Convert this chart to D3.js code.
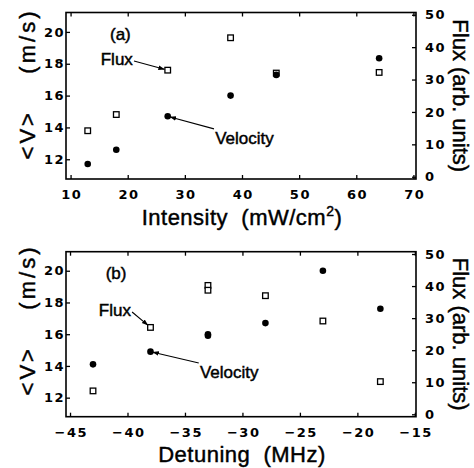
<!DOCTYPE html>
<html><head><meta charset="utf-8">
<script src="https://cdn.jsdelivr.net/npm/d3@7"></script>
<style>body{margin:0;background:#fff} svg{display:block}</style>
</head><body><svg id="c" width="474" height="468"></svg>
<script>
// ---------- data ----------
const intensity   = [13, 18, 27, 38, 46, 64];
const velocityA   = [11.7, 12.6, 14.7, 16.0, 17.3, 18.35];
const fluxA       = [14.2, 19.2, 32.9, 42.9, 32.0, 32.2];

const detuning    = [-43, -38, -33, -33, -28, -23, -18];
const velocityB   = [14.1, 14.9, 16.0, 15.9, 16.7, 20.0, 17.6];
const fluxB       = [7.3, 27.1, 40.2, 38.7, 37.0, 29.1, 10.2];

const intensityTicks = [10, 20, 30, 40, 50, 60, 70];
const detuningTicks  = [-45, -40, -35, -30, -25, -20, -15];
const velocityTicks  = [12, 14, 16, 18, 20];
const fluxTicks      = [0, 10, 20, 30, 40, 50];

// annotations in data units [x, leftY]
const annotA = {
  tag: {text: "(a)", at: [16.9, 19.5]},
  flux: {text: "Flux", at: [20.9, 17.92], from: [21.1, 18.17], to: 2},
  vel: {text: "Velocity", at: [35.3, 12.97], from: [35.1, 13.91], to: 2}
};
const annotB = {
  tag: {text: "(b)", at: [-41.9, 19.48]},
  flux: {text: "Flux", at: [-39.7, 17.15], from: [-39.6, 17.4], to: 1},
  vel: {text: "Velocity", at: [-33.7, 13.26], from: [-33.8, 14.19], to: 1}
};

const svg = d3.select("#c");
const FONT = "'Liberation Sans', Arial, Helvetica, sans-serif";
const TICKFONT = "'DejaVu Sans', Verdana, sans-serif";

svg.append("defs").append("marker")
  .attr("id", "ah").attr("viewBox", "0 0 10 10").attr("refX", 9).attr("refY", 5)
  .attr("markerWidth", 6).attr("markerHeight", 6).attr("orient", "auto")
  .append("path").attr("d", "M0,1.5 L10,5 L0,8.5 Z").attr("fill", "#000");

function heavy(sel) {
  return sel.attr("fill", "#000").attr("stroke", "#000").attr("stroke-width", 0.45);
}

function panel(cfg) {
  const L = 66, R = 416, T = cfg.top, B = cfg.bottom;
  const x = d3.scaleLinear().domain(cfg.xDomain).range([L, R]);
  const yl = d3.scaleLinear().domain(cfg.yDomain).range([B, T]);
  const yr = d3.scaleLinear().domain(cfg.fDomain).range([B, T]);
  const g = svg.append("g");

  const styleAxis = (sel) => {
    sel.select(".domain").remove();
    sel.selectAll(".tick line").attr("stroke", "#000").attr("stroke-width", 1.3);
    sel.selectAll(".tick text").attr("fill", "#000")
      .style("font-family", TICKFONT).style("font-size", "13px").style("font-weight", "bold")
      .style("letter-spacing", "1.5px");
  };

  g.append("g").attr("transform", `translate(0,${B})`)
    .call(d3.axisBottom(x).tickValues(cfg.xTicks).tickSizeInner(-4).tickSizeOuter(0).tickPadding(11)
      .tickFormat(d3.format("d")))
    .call(styleAxis)
    .selectAll(".tick text").attr("dx", "0.75px");
  g.append("g").attr("transform", `translate(0,${T})`)
    .call(d3.axisTop(x).tickValues(cfg.xTicks).tickSizeInner(-4).tickSizeOuter(0).tickFormat(""))
    .call(styleAxis);
  g.append("g").attr("transform", `translate(${L},0)`)
    .call(d3.axisLeft(yl).tickValues(velocityTicks).tickSizeInner(-4).tickSizeOuter(0).tickPadding(1)
      .tickFormat(d3.format("d")))
    .call(styleAxis);
  g.append("g").attr("transform", `translate(${R},0)`)
    .call(d3.axisRight(yr).tickValues(fluxTicks).tickSizeInner(-4).tickSizeOuter(0).tickPadding(9)
      .tickFormat(d3.format("d")))
    .call(styleAxis);

  g.append("rect").attr("x", L).attr("y", T).attr("width", R - L).attr("height", B - T)
    .attr("fill", "none").attr("stroke", "#000").attr("stroke-width", 1.6);

  // flux squares
  g.selectAll(".sq").data(cfg.xs.map((d, i) => [d, cfg.flux[i]])).enter().append("rect")
    .attr("x", d => x(d[0]) - 2.8).attr("y", d => yr(d[1]) - 2.8)
    .attr("width", 5.6).attr("height", 5.6)
    .attr("fill", "#fff").attr("stroke", "#000").attr("stroke-width", 1.3);
  // velocity circles
  g.selectAll(".ci").data(cfg.xs.map((d, i) => [d, cfg.vel[i]])).enter().append("circle")
    .attr("cx", d => x(d[0])).attr("cy", d => yl(d[1])).attr("r", 3.3).attr("fill", "#000");

  // annotations
  const a = cfg.annot;
  heavy(g.append("text").attr("x", x(a.tag.at[0])).attr("y", yl(a.tag.at[1])))
    .style("font-family", FONT).style("font-size", "17px").text(a.tag.text);
  heavy(g.append("text").attr("x", x(a.flux.at[0])).attr("y", yl(a.flux.at[1])).attr("text-anchor", "end"))
    .style("font-family", FONT).style("font-size", "17px").text(a.flux.text);
  heavy(g.append("text").attr("x", x(a.vel.at[0])).attr("y", yl(a.vel.at[1])))
    .style("font-family", FONT).style("font-size", "17px").text(a.vel.text);
  // arrows
  const fx = x(cfg.xs[a.flux.to]), fy = yr(cfg.flux[a.flux.to]);
  const sx = x(a.flux.from[0]), sy = yl(a.flux.from[1]);
  const fl = Math.hypot(fx - sx, fy - sy);
  g.append("line").attr("x1", sx).attr("y1", sy)
    .attr("x2", fx - (fx - sx) / fl * 3.5).attr("y2", fy - (fy - sy) / fl * 3.5)
    .attr("stroke", "#000").attr("stroke-width", 1.1).attr("marker-end", "url(#ah)");
  const vx = x(cfg.xs[a.vel.to]), vy = yl(cfg.vel[a.vel.to]);
  const tx = x(a.vel.from[0]), ty = yl(a.vel.from[1]);
  const vl = Math.hypot(vx - tx, vy - ty);
  g.append("line").attr("x1", tx).attr("y1", ty)
    .attr("x2", vx - (vx - tx) / vl * 2.5).attr("y2", vy - (vy - ty) / vl * 2.5)
    .attr("stroke", "#000").attr("stroke-width", 1.1).attr("marker-end", "url(#ah)");

  // axis titles
  heavy(g.append("text")
    .attr("transform", `translate(35,${cfg.leftTitleY}) rotate(-90)`)
    .attr("text-anchor", "middle").style("white-space", "pre")
    .style("font-family", FONT).style("font-size", "22px").style("letter-spacing", "3px"))
    .text("<V>    (m/s)");
  heavy(g.append("text")
    .attr("transform", `translate(453,${(T + B) / 2}) rotate(90)`)
    .attr("text-anchor", "middle").style("white-space", "pre")
    .style("font-family", FONT).style("font-size", "22px"))
    .text("Flux (arb. units)");
  const xt = heavy(g.append("text").attr("x", 242).attr("y", cfg.xTitleY).attr("text-anchor", "middle")
    .style("white-space", "pre").style("font-family", FONT).style("font-size", "22px")
    .style("letter-spacing", "0.5px"));
  cfg.xTitle(xt);
}

panel({
  top: 12.5, bottom: 179, xDomain: [9.2, 70.45], yDomain: [10.76, 21.22], fDomain: [-0.7, 50.7],
  xTicks: intensityTicks, xs: intensity, vel: velocityA, flux: fluxA, annot: annotA,
  leftTitleY: 84, xTitleY: 225,
  xTitle: t => { t.append("tspan").text("Intensity  (mW/cm");
                 t.append("tspan").attr("dy", -9).style("font-size", "14px").text("2");
                 t.append("tspan").attr("dy", 9).text(")"); }
});
panel({
  top: 251.7, bottom: 416.7, xDomain: [-45.35, -14.9], yDomain: [10.8, 21.2], fDomain: [-0.75, 50.72],
  xTicks: detuningTicks, xs: detuning, vel: velocityB, flux: fluxB, annot: annotB,
  leftTitleY: 320, xTitleY: 462,
  xTitle: t => t.text("Detuning  (MHz)")
});
</script>
</body></html>
